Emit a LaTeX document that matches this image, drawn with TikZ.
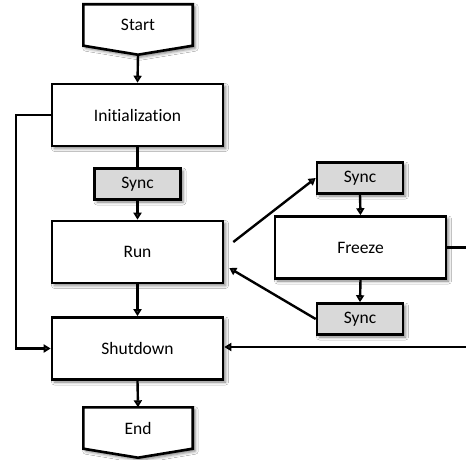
\documentclass[tikz,border=0pt]{standalone}
\usepackage{fontspec}
\setmainfont{Carlito}[Ligatures=NoCommon]
\usetikzlibrary{arrows.meta,shadows.blur}

\tikzset{
  x=1pt, y=-1pt,
  softshadow/.style={blur shadow={shadow xshift=2.5pt, shadow yshift=-2.5pt,
      shadow blur radius=3pt, shadow opacity=50}},
  label/.style={font=\fontsize{17.5}{20}\selectfont, inner sep=0pt},
  procbox/.style={label, draw, line width=2.6pt, fill=white, softshadow,
      minimum width=171pt, minimum height=62pt},
  syncbox/.style={label, draw, line width=2.6pt, fill=syncgray, softshadow,
      minimum width=86pt, minimum height=31pt},
  termtext/.style={label, minimum width=109pt, minimum height=41pt},
  termline/.style={draw, line width=2.6pt, fill=white, line join=miter, softshadow},
  flow/.style={line width=2.4pt, -{Triangle[length=7pt,width=8pt]}},
  plain/.style={line width=2.4pt},
}
\definecolor{syncgray}{RGB}{217,217,217}

\begin{document}
\begin{tikzpicture}
  \clip (0,0) rectangle (466,460);
  \fill[white] (0,0) rectangle (466,460);

  % terminals (off-page connector outline)
  \node[termtext] (start) at (138,25) {};
  \draw[termline] (start.north west) -- (start.north east) -- (start.south east)
     -- ([yshift=-9pt]start.south) -- (start.south west) -- cycle;
  \node[label] at (start) {Start};
  \coordinate (starttip) at ([yshift=-9pt]start.south);

  \node[termtext] (end) at (138,428) {};
  \draw[termline] (end.north west) -- (end.north east) -- (end.south east)
     -- ([yshift=-9pt]end.south) -- (end.south west) -- cycle;
  \node[label] at (end) {End};

  % main column
  \node[procbox] (init) at (137.5,115) {Initialization};
  \node[syncbox] (sync1) at (137.5,184) {Sync};
  \node[procbox] (run) at (137.5,252) {Run};
  \node[procbox] (shut) at (137.5,348.5) {Shutdown};

  % freeze branch
  \node[syncbox] (sync2) at (360,178) {Sync};
  \node[procbox] (freeze) at (360.5,247.5) {Freeze};
  \node[syncbox] (sync3) at (360,319) {Sync};

  % connectors
  \draw[flow] (starttip) -- (init.north);
  \draw[plain] (init.south) -- (sync1.north);
  \draw[flow] (sync1.south) -- (run.north);
  \draw[flow] (run.south) -- (shut.north);
  \draw[flow] (shut.south) -- (end.north);
  \draw[flow] (init.west) -- (16,115) |- (shut.west);

  \coordinate (runout) at ([shift={(9,-10)}]run.east);
  \coordinate (runin) at ([shift={(5,16)}]run.east);
  \draw[flow] (runout) -- (sync2.west);
  \draw[flow] (sync2.south) -- (freeze.north);
  \draw[flow] (freeze.south) -- (sync3.north);
  \draw[flow] (sync3.west) -- (runin);
  \draw[flow] (freeze.east) -- ++(40,0) |- ([yshift=1.5pt]shut.east);
\end{tikzpicture}
\end{document}
